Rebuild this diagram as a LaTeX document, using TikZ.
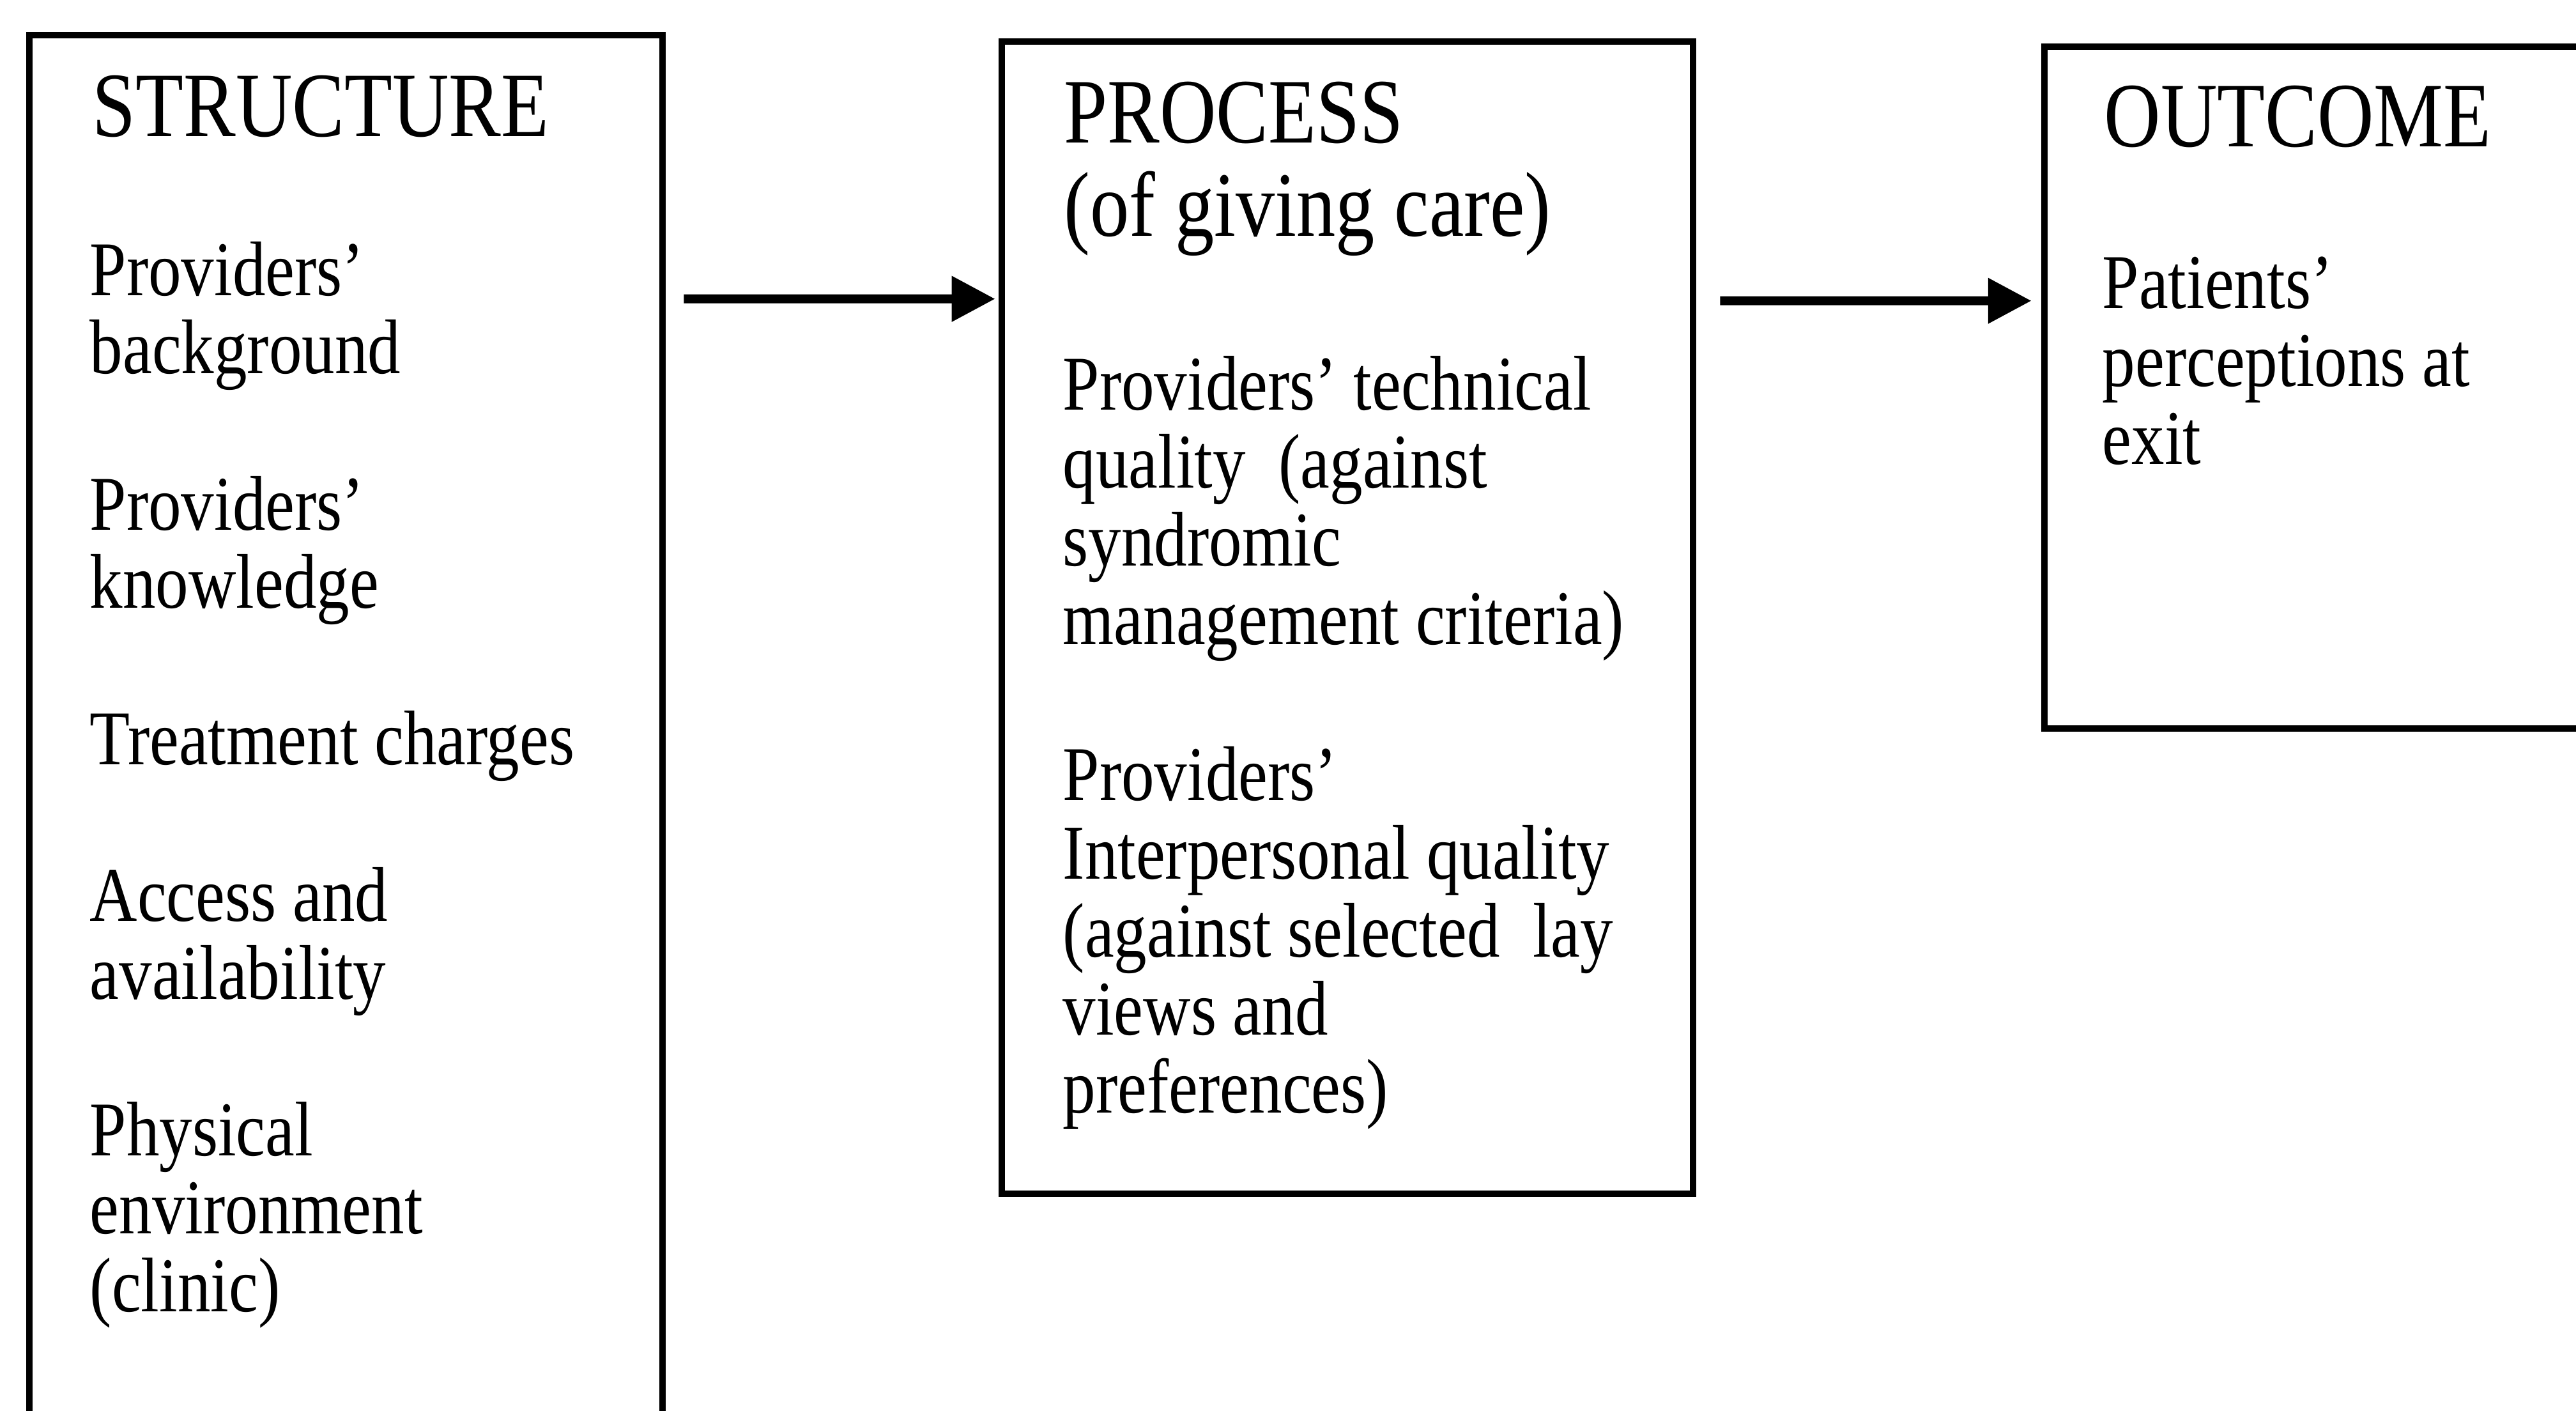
\documentclass[tikz,border=0pt]{standalone}
\usepackage{fontspec}
\setmainfont{Liberation Serif}[FakeStretch=0.85]
\usetikzlibrary{arrows.meta}

\begin{document}
\begin{tikzpicture}[
        box/.style={draw, line width=3pt, shape=rectangle, inner sep=0pt},
        head/.style={anchor=base west, inner sep=0pt, align=left, font=\fontsize{41}{41.8}\selectfont},
        body/.style={anchor=base west, inner sep=0pt, align=left, font=\fontsize{34.5}{34.8}\selectfont},
        flow/.style={-{Triangle[length=0.68cm, width=0.68cm]}, line width=4pt}
    ]
        \clip (0, 0) rectangle (40.32, 22.08);

        \node (structure) at (5.415, 10.515) [box, minimum width=9.91cm, minimum height=22.03cm] {};
        \node (process) at (21.09, 12.415) [box, minimum width=10.82cm, minimum height=18.03cm] {};
        \node (outcome) at (36.5, 16.015) [box, minimum width=9cm, minimum height=10.67cm] {};

        \node (h1) at (1.44, 19.94) [head] {STRUCTURE};
        \node (t1) at (1.40, 1.55) [body] {Providers'\\
            background\\[1.224cm]
            Providers'\\
            knowledge\\[1.224cm]
            Treatment charges\\[1.224cm]
            Access and\\
            availability\\[1.224cm]
            Physical\\
            environment\\
            (clinic)};

        \node (h2) at (16.65, 18.38) [head] {PROCESS\\(of giving care)};
        \node (t2) at (16.63, 4.66) [body] {Providers' technical\\
            quality\ \ (against\\
            syndromic\\
            management criteria)\\[1.224cm]
            Providers'\\
            Interpersonal quality\\
            (against selected\ \ lay\\
            views and\\
            preferences)};

        \node (h3) at (32.93, 19.78) [head] {OUTCOME};
        \node (t3) at (32.90, 14.81) [body] {Patients'\\
            perceptions at\\
            exit};

        \draw[flow, shorten <=0.28cm, shorten >=0.05cm] ([yshift=-4.18cm]structure.north east) -- ([yshift=-4.08cm]process.north west);
        \draw[flow, shorten <=0.37cm, shorten >=0.15cm] ([yshift=-4.11cm]process.north east) -- ([yshift=-4.03cm]outcome.north west);
    \end{tikzpicture}
\end{document}
